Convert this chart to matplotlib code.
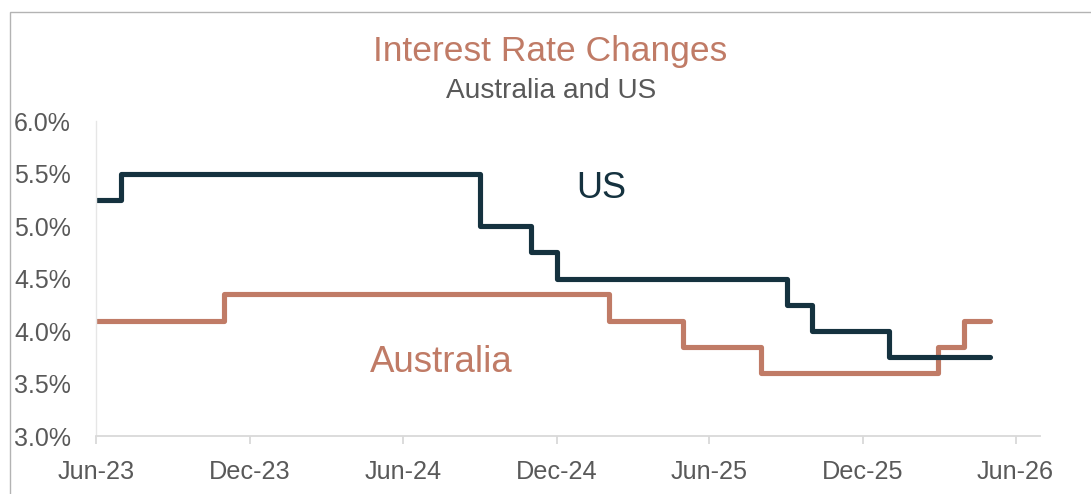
import matplotlib
matplotlib.use("Agg")
import matplotlib.pyplot as plt
import matplotlib.dates as mdates
from matplotlib.patches import Rectangle
import pandas as pd

# ---- data ----
us_dates = ["2023-06-01", "2023-07-01", "2024-09-01", "2024-11-01", "2024-12-01",
            "2025-09-01", "2025-10-01", "2026-01-01", "2026-05-01"]
us_rates = [5.25, 5.50, 5.00, 4.75, 4.50, 4.25, 4.00, 3.75, 3.75]

au_dates = ["2023-06-01", "2023-11-01", "2025-02-01", "2025-05-01", "2025-08-01",
            "2026-03-01", "2026-04-01", "2026-05-01"]
au_rates = [4.10, 4.35, 4.10, 3.85, 3.60, 3.85, 4.10, 4.10]

tick_dates = ["2023-06-01", "2023-12-01", "2024-06-01", "2024-12-01",
              "2025-06-01", "2025-12-01", "2026-06-01"]
y_ticks = [3.0, 3.5, 4.0, 4.5, 5.0, 5.5, 6.0]

title = "Interest Rate Changes"
subtitle = "Australia and US"

US_COL = "#15323F"
AU_COL = "#C07B66"
TXT = "#595959"

plt.rcParams["font.family"] = ["Liberation Sans", "DejaVu Sans"]

W, H = 1091, 494
fig = plt.figure(figsize=(W / 100, H / 100), dpi=100)
fig.patch.set_facecolor("white")

# outer chart border
fig.patches.append(Rectangle((9.5 / W, -0.1), 2.0, (H - 12) / H + 0.1,
                             transform=fig.transFigure, fill=False,
                             edgecolor="#B3B3B3", linewidth=1.0))

ax = fig.add_axes([96 / W, (H - 436) / H, (1040 - 96) / W, (436 - 121) / H])

usd = pd.to_datetime(us_dates)
aud = pd.to_datetime(au_dates)

ax.step(aud, au_rates, where="post", color=AU_COL, linewidth=3.7,
        solid_capstyle="round", solid_joinstyle="round")
ax.step(usd, us_rates, where="post", color=US_COL, linewidth=3.7,
        solid_capstyle="round", solid_joinstyle="round")

ax.set_xlim(pd.Timestamp("2023-06-01"), pd.Timestamp("2026-06-30"))
ax.set_ylim(3.0, 6.0)

ax.set_xticks(pd.to_datetime(tick_dates))
ax.xaxis.set_major_formatter(mdates.DateFormatter("%b-%y"))
ax.set_yticks(y_ticks)
ax.set_yticklabels([f"{v:.1f}%" for v in y_ticks])

for s in ["top", "right"]:
    ax.spines[s].set_visible(False)
ax.spines["bottom"].set_color("#D9D9D9")
ax.spines["bottom"].set_linewidth(1.3)
ax.spines["left"].set_color("#E6E6E6")
ax.spines["left"].set_linewidth(1.0)

ax.tick_params(axis="x", colors="#D9D9D9", length=6, width=1.3, pad=11,
               labelcolor=TXT, labelsize=18.2)
ax.tick_params(axis="y", length=0, pad=18, labelcolor=TXT, labelsize=18)

# series labels
ax.text(pd.Timestamp("2024-12-24"), 5.36, "US", color=US_COL, fontsize=26,
        ha="left", va="center")
ax.text(pd.Timestamp("2024-04-22"), 3.70, "Australia", color=AU_COL, fontsize=26.4,
        ha="left", va="center")

fig.text(550 / W, 1 - 51 / H, title, color=AU_COL, fontsize=25.5,
         ha="center", va="center")
fig.text(551 / W, 1 - 91 / H, subtitle, color=TXT, fontsize=20.2,
         ha="center", va="center")

fig.savefig("out.png", dpi=100, facecolor="white")
